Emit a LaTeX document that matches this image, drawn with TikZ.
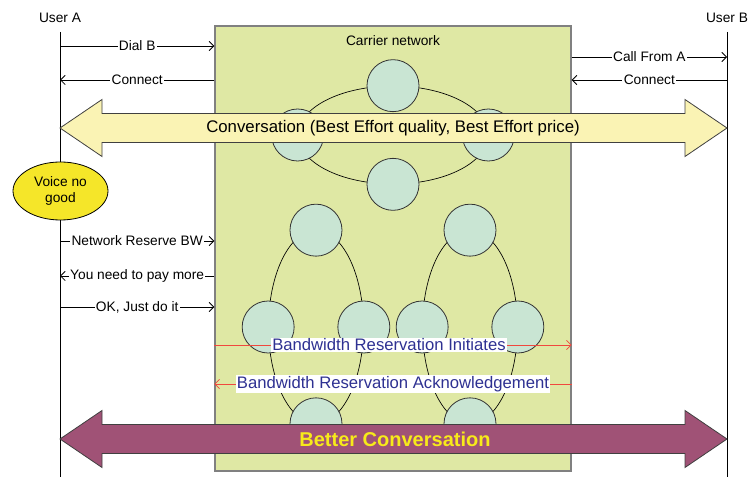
\documentclass[tikz,border=0pt]{standalone}
\usepackage{fontspec}
\setmainfont{Liberation Sans}
\usetikzlibrary{arrows.meta,shapes.geometric,positioning}
\definecolor{netfill}{HTML}{DFE8A4}
\definecolor{netedge}{HTML}{808080}
\definecolor{hubfill}{HTML}{C9E5D3}
\definecolor{convfill}{HTML}{FAF3B4}
\definecolor{betterfill}{HTML}{A05276}
\definecolor{bettertext}{HTML}{F7EA1A}
\definecolor{voicefill}{HTML}{F5E629}
\definecolor{bwred}{HTML}{F0483E}
\definecolor{bwblue}{HTML}{2E3192}

\begin{document}
\begin{tikzpicture}[x=0.75pt,y=-0.75pt,
    life/.style={line width=0.6pt},
    msg/.style={line width=0.6pt,-{Straight Barb[length=3.5pt,width=7pt]}},
    msglbl/.style={fill=white,inner sep=1pt,font=\fontsize{10.3}{12}\selectfont},
    ring/.style={ellipse,draw,line width=0.5pt,inner sep=0pt},
    hub/.style={circle,draw=black!80,fill=hubfill,line width=0.6pt,minimum size=39pt,inner sep=0pt},
    bigarrow/.style={draw=black!75,line width=0.6pt},
    bwmsg/.style={draw=bwred,line width=0.6pt,-{Straight Barb[length=3.5pt,width=7pt]}},
    bwlbl/.style={fill=white,text=bwblue,inner sep=1pt,font=\fontsize{12.5}{14}\selectfont}]
    \useasboundingbox (0,0) rectangle (751,477);
    \def\hl{42}   % head length
    \def\hw{28.5} % head half width
    \def\sw{14.5} % shaft half width
    % Carrier network
    \node[draw=netedge,fill=netfill,line width=1pt,minimum width=267pt,minimum height=333.75pt,inner sep=0pt] (net) at (393,248.5) {};
    \node[font=\fontsize{10.3}{12}\selectfont] (title) at (393,41) {Carrier network};
    % Users and their lifelines
    \node[font=\fontsize{10.3}{12}\selectfont] (usera) at (60,18) {User A};
    \node[font=\fontsize{10.3}{12}\selectfont] (userb) at (727,18) {User B};
    \draw[life] (usera) ++(0,14) -- (usera |- 0,477);
    \draw[life] (userb) ++(0,14) -- (userb |- 0,477);
    \node[ellipse,draw,fill=voicefill,line width=0.6pt,minimum width=71.25pt,minimum height=43.5pt,inner sep=0pt,align=center,font=\fontsize{10.3}{12.5}\selectfont] (voice) at (60.5,191) {Voice no\\good};
    % Messages on the user A side
    \foreach \y/\txt in {46/Dial B,241/Network Reserve BW,307/{OK, Just do it}}
        \draw[msg] (usera |- 0,\y) -- node[msglbl] {\txt} (net.west |- 0,\y);
    \foreach \y/\txt in {80/Connect,276/You need to pay more}
        \draw[msg] (net.west |- 0,\y) -- node[msglbl] {\txt} (usera |- 0,\y);
    % Messages on the user B side
    \draw[msg] (net.east |- 0,57) -- node[msglbl] {Call From A} (userb |- 0,57);
    \draw[msg] (userb |- 0,80) -- node[msglbl] {Connect} (net.east |- 0,80);
    % Rings of the network
    \node[ring,minimum width=142.5pt,minimum height=73.5pt] (ring1) at (393,135) {};
    \node[ring,minimum width=71.25pt,minimum height=144.75pt] (ring2) at (316,327) {};
    \node[ring,minimum width=71.25pt,minimum height=144.75pt] (ring3) at (470,327) {};
    \foreach \r in {ring1,ring2,ring3} {
        \foreach \a in {north,south,east,west} {
            \node[hub] (\r-\a) at (\r.\a) {};
        }
    }
    % Bandwidth reservation
    \draw[bwmsg] (net.west |- 0,345) -- node[bwlbl,xshift=-3pt] {Bandwidth Reservation Initiates} (net.east |- 0,345);
    \draw[bwmsg] (net.east |- 0,384) -- node[bwlbl] {Bandwidth Reservation Acknowledgement} (net.west |- 0,384);
    % Conversations
    \foreach \y/\col in {128/convfill,439/betterfill}
        \draw[bigarrow,fill=\col] (60,\y) -- ++(\hl,-\hw) -- ++(0,\hw-\sw) -- (727-\hl,\y-\sw) -- ++(0,\sw-\hw)
            -- (727,\y) -- ++(-\hl,\hw) -- ++(0,\sw-\hw) -- (60+\hl,\y+\sw) -- ++(0,\hw-\sw) -- cycle;
    \node[font=\fontsize{12.6}{15}\selectfont] (conv) at (393,128) {Conversation (Best Effort quality, Best Effort price)};
    \node[font=\bfseries\fontsize{15}{18}\selectfont,text=bettertext] (better) at (395,439) {Better Conversation};
\end{tikzpicture}
\end{document}
